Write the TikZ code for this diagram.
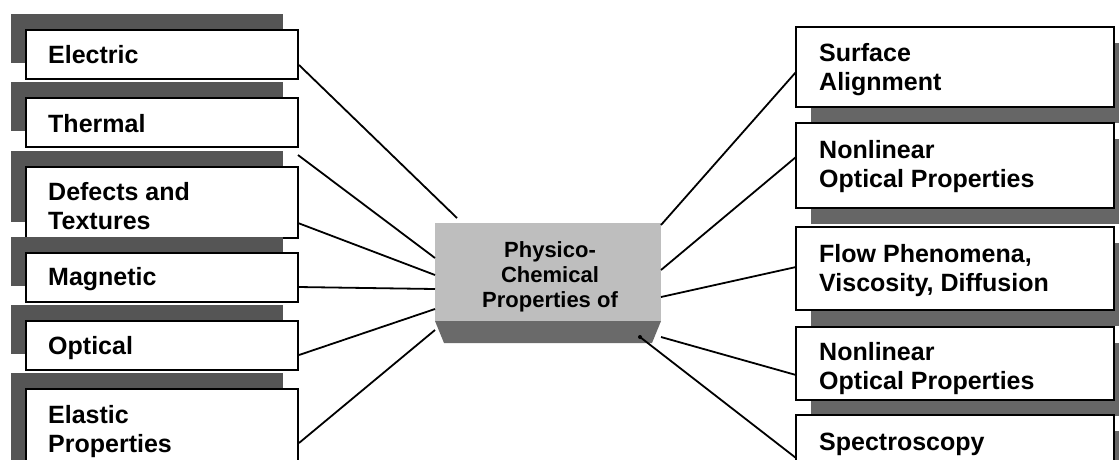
\documentclass[tikz,border=0pt]{standalone}
\usepackage{fontspec}
\setmainfont{Liberation Sans}
\usetikzlibrary{calc}
\definecolor{lsh}{HTML}{555555}
\definecolor{rsh}{HTML}{666666}
\definecolor{face}{HTML}{BEBEBE}
\definecolor{bevel}{HTML}{6A6A6A}
\newcommand{\boxfont}{\fontsize{25}{29}\selectfont\bfseries}
\newcommand{\ctrfont}{\fontsize{22}{25}\selectfont\bfseries}
\newcommand{\tl}[1]{\begin{tabular}[t]{@{}l@{}}#1\end{tabular}}
\begin{document}
\begin{tikzpicture}[x=1pt,y=1pt,
  boxbase/.style={draw=black, line width=1.8pt, fill=white, inner sep=0pt, outer sep=0pt, anchor=north west},
  lbox/.style={boxbase, minimum width=272pt,
     preaction={fill=lsh, draw=none, transform canvas={shift={(-15pt,16pt)}}}},
  rbox/.style={boxbase, minimum width=318pt,
     preaction={fill=rsh, draw=none, transform canvas={shift={(15pt,-16pt)}}}},
  ltext/.style={anchor=base west, inner sep=0pt, font=\boxfont},
  ctext/.style={anchor=base, inner sep=0pt, font=\ctrfont},
  conn/.style={draw=black, line width=1.8pt}]
\useasboundingbox (0,0) rectangle (1119,-459);
\clip (0,0) rectangle (1119,-459);
\fill[white] (0,0) rectangle (1119,-459);

% left boxes
\node[lbox, minimum height=49pt] (electric) at (26,-30) {};
\node[lbox, minimum height=49pt] (thermal) at (26,-98) {};
\node[lbox, minimum height=71pt] (defects) at (26,-167) {};
\node[lbox, minimum height=49pt] (magnetic) at (26,-253) {};
\node[lbox, minimum height=49pt] (optical) at (26,-321) {};
\node[lbox, minimum height=90pt] (elastic) at (26,-389) {};

\node[ltext] (electric-t) at (48,-63) {\tl{Electric}};
\node[ltext] (thermal-t) at (48,-132) {\tl{Thermal}};
\node[ltext] (defects-t) at (48,-200) {\tl{Defects and\\Textures}};
\node[ltext] (magnetic-t) at (48,-285) {\tl{Magnetic}};
\node[ltext] (optical-t) at (48,-354) {\tl{Optical}};
\node[ltext] (elastic-t) at (48,-423) {\tl{Elastic\\Properties}};

% right boxes
\node[rbox, minimum height=80pt] (surface) at (796,-27) {};
\node[rbox, minimum height=85pt] (nonlinA) at (796,-123) {};
\node[rbox, minimum height=83pt] (flow) at (796,-227) {};
\node[rbox, minimum height=73pt] (nonlinB) at (796,-327) {};
\node[rbox, minimum height=80pt] (spectro) at (796,-415) {};

\node[ltext] (surface-t) at (819,-61) {\tl{Surface\\Alignment}};
\node[ltext] (nonlinA-t) at (819,-158) {\tl{Nonlinear\\Optical Properties}};
\node[ltext] (flow-t) at (819,-262) {\tl{Flow Phenomena,\\Viscosity, Diffusion}};
\node[ltext] (nonlinB-t) at (819,-360) {\tl{Nonlinear\\Optical Properties}};
\node[ltext] (spectro-t) at (819,-450) {\tl{Spectroscopy}};

% centre block
\node[fill=face, draw=none, inner sep=0pt, outer sep=0pt, anchor=north west,
      minimum width=226pt, minimum height=98pt] (ctr) at (435,-223) {};
\fill[bevel] (ctr.south west) -- (ctr.south east) -- ($(ctr.south east)+(-9,-22)$)
   -- ($(ctr.south west)+(9,-22)$) -- cycle;
\node[ctext] (ctr-t) at (550,-257)
  {\begin{tabular}[t]{@{}c@{}}Physico-\\Chemical\\Properties of\end{tabular}};

% connectors (left)
\draw[conn] ($(electric.north east)+(1,-35)$) -- ($(ctr.north west)+(22,5)$);
\draw[conn] ($(thermal.south east)+(0,-8)$) -- ($(ctr.north west)+(0,-35)$);
\draw[conn] ($(defects.north east)+(0,-56)$) -- ($(ctr.north west)+(0,-52)$);
\draw[conn] ($(magnetic.north east)+(0,-34)$) -- ($(ctr.north west)+(0,-66)$);
\draw[conn] ($(optical.north east)+(1,-34)$) -- ($(ctr.north west)+(0,-86)$);
\draw[conn] ($(elastic.north east)+(1,-54)$) -- ($(ctr.north west)+(0,-107)$);
% connectors (right)
\draw[conn] ($(surface.north west)+(0,-45)$) -- ($(ctr.north east)+(0,-2)$);
\draw[conn] ($(nonlinA.north west)+(0,-34)$) -- ($(ctr.north east)+(0,-47)$);
\draw[conn] ($(flow.north west)+(0,-40)$) -- ($(ctr.north east)+(0,-74)$);
\draw[conn] ($(nonlinB.north west)+(0,-48)$) -- ($(ctr.north east)+(0,-114)$);
\coordinate (spend) at ($(ctr.north east)+(-21,-114)$);
\draw[conn] ($(spectro.north west)+(0,-43)$) -- (spend);
\fill[black] (spend) circle (2pt);
\end{tikzpicture}
\end{document}
